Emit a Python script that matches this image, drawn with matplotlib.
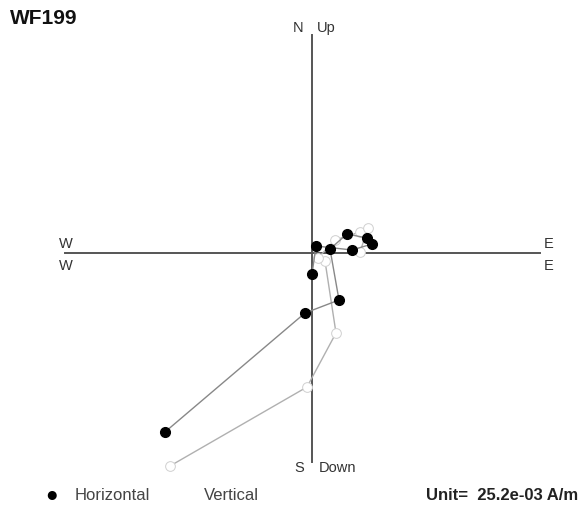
import matplotlib.pyplot as plt

plt.rcParams['font.family'] = ['Liberation Sans', 'DejaVu Sans']

# demag steps, in units of 0.1 x "Unit"
horiz_e = [-14.7, -0.7, 2.7, 1.8, 3.5, 5.5, 6.0, 4.0, 0.4, 0.0]
horiz_n = [-17.9, -6.0, -4.7, 0.4, 1.9, 1.5, 0.9, 0.3, 0.7, -2.1]

vert_e = [-14.2, -0.5, 2.4, 1.3, 0.6, 2.3, 4.8, 5.6, 4.8]
vert_up = [-21.3, -13.4, -8.0, -0.8, -0.5, 1.3, 2.1, 2.5, 0.1]

site = 'WF199'
unit_text = 'Unit=  25.2e-03 A/m'

fig = plt.figure(figsize=(5.81, 5.15), dpi=100)
ax = fig.add_axes([0, 0, 1, 1])
ax.set_xlim(-31.2, 26.9)
ax.set_ylim(-26.2, 25.3)
ax.axis('off')

# axes cross
ax.plot([-24.7, 22.8], [0, 0], color='#555555', lw=1.4, zorder=1)
ax.plot([0, 0], [-20.9, 21.8], color='#555555', lw=1.4, zorder=1)

ax.plot(vert_e, vert_up, '-', color='#b0b0b0', lw=1.0, zorder=2)
ax.plot(vert_e, vert_up, 'o', mfc='white', mec='#d0d0d0', mew=0.7, ms=7, zorder=3)
ax.plot(horiz_e, horiz_n, '-', color='#888888', lw=1.0, zorder=4)
ax.plot(horiz_e, horiz_n, 'o', color='black', ms=7, zorder=5)

fs = 10.5
tc = '#333333'
ax.text(-1.4, 22.5, 'N', ha='center', va='center', fontsize=fs, color=tc)
ax.text(1.4, 22.5, 'Up', ha='center', va='center', fontsize=fs, color=tc)
ax.text(-1.3, -21.5, 'S', ha='center', va='center', fontsize=fs, color=tc)
ax.text(2.6, -21.5, 'Down', ha='center', va='center', fontsize=fs, color=tc)
ax.text(-24.6, 0.9, 'W', ha='center', va='center', fontsize=fs, color=tc)
ax.text(-24.6, -1.3, 'W', ha='center', va='center', fontsize=fs, color=tc)
ax.text(23.7, 0.9, 'E', ha='center', va='center', fontsize=fs, color=tc)
ax.text(23.7, -1.3, 'E', ha='center', va='center', fontsize=fs, color=tc)

fig.text(10 / 581, 1 - 18 / 515, site, ha='left', va='center',
         fontsize=15, fontweight='bold', color='#111111')

# legend row
ly = 1 - 496 / 515
fig.text(52 / 581, ly, '\u25cf', ha='center', va='center', fontsize=15, color='black')
fig.text(75 / 581, ly, 'Horizontal', ha='left', va='center', fontsize=12, color='#444444')
fig.text(204 / 581, ly, 'Vertical', ha='left', va='center', fontsize=12, color='#444444')
fig.text(578 / 581, ly, unit_text, ha='right', va='center', fontsize=12,
         fontweight='bold', color='#222222')

fig.savefig('out.png', dpi=100)
